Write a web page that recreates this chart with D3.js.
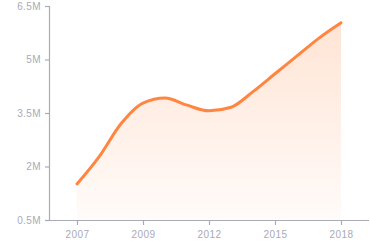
<!DOCTYPE html>
<html>
<head>
<meta charset="utf-8">
<script src="https://cdn.jsdelivr.net/npm/d3@7"></script>
<style>
  body { margin: 0; background: #fff; }
  svg { display: block; font-family: Roboto, "DejaVu Sans", sans-serif; }
</style>
</head>
<body>
<div id="chart"></div>
<script>
// data points along the x axis (index), values in millions
const steps = [0, 1, 2, 3, 4, 5, 6, 7, 8, 9, 10, 11, 12];
const values = [1.51, 2.27, 3.20, 3.78, 3.92, 3.72, 3.56, 3.66, 4.10, 4.60, 5.10, 5.60, 6.03];
const xTickSteps = [0, 3, 6, 9, 12];
const xTickLabels = ["2007", "2009", "2012", "2015", "2018"];
const yTicks = [0.5, 2, 3.5, 5, 6.5];

const width = 370, height = 250;
const margin = { top: 6, right: 0, bottom: 30, left: 50 };

const svg = d3.select("#chart").append("svg")
    .attr("width", width)
    .attr("height", height);

const x = d3.scaleLinear()
    .domain([0, 12])
    .range([77, 341]);

const y = d3.scaleLinear()
    .domain([0.5, 6.5])
    .range([height - margin.bottom, margin.top]);

const axisColor = "#a9abbb";
const labelColor = "#a9aab6";

// gradient for the area
const defs = svg.append("defs");
const grad = defs.append("linearGradient")
    .attr("id", "areaGrad")
    .attr("x1", 0).attr("y1", 0).attr("x2", 0).attr("y2", 1);
grad.append("stop").attr("offset", "0%").attr("stop-color", "#ff8540").attr("stop-opacity", 0.22);
grad.append("stop").attr("offset", "100%").attr("stop-color", "#ff8540").attr("stop-opacity", 0.03);

const data = steps.map((s, i) => ({ s, v: values[i] }));
const curve = d3.curveMonotoneX;

const area = d3.area()
    .x(d => x(d.s))
    .y0(y(0.5))
    .y1(d => y(d.v))
    .curve(curve);

const line = d3.line()
    .x(d => x(d.s))
    .y(d => y(d.v))
    .curve(curve);

svg.append("path")
    .datum(data)
    .attr("fill", "url(#areaGrad)")
    .attr("d", area);

svg.append("path")
    .datum(data)
    .attr("fill", "none")
    .attr("stroke", "#ff8540")
    .attr("stroke-width", 3)
    .attr("stroke-linecap", "round")
    .attr("stroke-linejoin", "round")
    .attr("d", line);

// y axis
const yAxis = svg.append("g")
    .attr("transform", `translate(${margin.left},0)`)
    .call(d3.axisLeft(y).tickValues(yTicks).tickSize(5).tickPadding(4)
        .tickFormat(d => d + "M"));

// x axis
const xAxis = svg.append("g")
    .attr("transform", `translate(0,${height - margin.bottom})`)
    .call(d3.axisBottom(x).tickValues(xTickSteps).tickSize(5).tickPadding(6)
        .tickFormat((d, i) => xTickLabels[i]));

xAxis.select(".domain").attr("d", `M${margin.left},0.5H${width - 1}`);
yAxis.select(".domain").attr("d", `M-0.5,${margin.top}V${height - margin.bottom}`);

[xAxis, yAxis].forEach(g => {
    g.selectAll(".domain").attr("stroke", axisColor).attr("stroke-width", 1.2);
    g.selectAll(".tick line").attr("stroke", axisColor).attr("stroke-width", 1.2);
    g.selectAll(".tick text")
        .attr("fill", labelColor)
        .style("font-size", "10px")
        .style("letter-spacing", "0.4px");
});
</script>
</body>
</html>
